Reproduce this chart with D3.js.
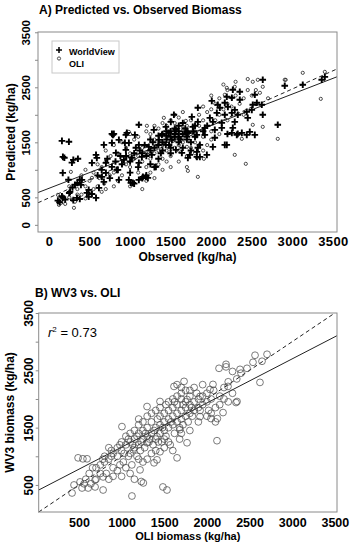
<!DOCTYPE html>
<html>
<head>
<meta charset="utf-8">
<script src="https://cdn.jsdelivr.net/npm/d3@7"></script>
<style>
  body { margin: 0; background: #fff; }
  svg { font-family: "Liberation Sans", Arial, sans-serif; }
</style>
</head>
<body>
<script>
// Panel A: observed vs predicted, two sensors
var wvPoints = [
  [110,440],[130,410],[170,490],[200,460],[160,520],[250,580],[300,450],[345,490],[380,470],[170,945],[172,1236],[190,1220],[283,1130],[357,1200],[300,1180],[160,1527],[246,1509],[240,820],[320,730],[290,680],[260,600],[380,820],[350,760],
  [468,581],[490,510],[580,490],[530,560],[580,1272],[590,1218],[530,1127],[677,1454],[776,1490],[862,1545],[776,1654],[948,1636],[985,1490],[1108,1454],[1231,1418],[702,1127],[776,1054],[702,945],[837,1000],[653,872],[862,818],[985,818],[1108,818],[1195,872],[1010,763],[677,781],[616,672],[490,636],[406,818],[394,727],[924,1181],[1022,1218],[1145,1236],[1268,1272],[1318,1054],[1108,1127],[825,1309],[948,1363],[1071,1400],[1440,1454],[1515,1545],[1478,1672],[1600,1600],[1638,1309],[1564,1363],[1355,1545],[1392,1636],
  [788,1636],[936,1490],[1059,1636],[1860,1454],[2020,1418],[2192,1454],[2315,1636],[2438,1636],[2537,1636],[1823,1236],[1946,1272],[1700,1600],
  [2635,2636],[2537,2364],[2562,2218],[2623,2182],[2512,2182],[2500,2090],[2635,2000],[2820,1818],[2906,2527],[3128,2545],[3362,2636],[3400,2690],[2266,2455],[2352,2418],[2192,2327],[2254,2309],[2352,2273],[2167,2218],[2081,2182],[2007,2254],[1835,2127],[2106,2127],[2205,2145],[2290,2090],[2069,2036],[2167,2000],[2254,2036],[2327,2000],[2438,2054],[2450,1945],[1983,1945],[1761,1963],[1835,1872],[2020,1872],[2130,1854],[2290,1872],[1773,1781],[1921,1763],[2044,1727],[2130,1763],[2266,1763],[2377,1672],[2475,1690],[2254,1672],[1700,1672],
  [1540,2000],[1108,1818],[1293,1727],[1441,1781],[1502,1872],[1564,1727],[800,1654],[960,1672],
  [1712,1672],[1823,1636],[1921,1636],[2044,1582],[2167,1454],[2327,1654],[1835,1400],[1736,1272],[1712,1218],[1860,1236],[1823,1327],
  [1200,1250],[1250,1350],[1300,1400],[1350,1450],[1400,1500],[1450,1550],[1500,1600],[1550,1650],[1600,1700],[1650,1650],[1700,1550],[1750,1500],[1800,1600],[1150,1300],[1350,1200],[1400,1650],[1500,1400],[1600,1500],[1700,1700],[1550,1750],[1450,1700],[1250,1550],[1180,1450],[1050,1300],[950,1250],[900,1100],[850,1000],[1000,950],[1100,1050],[1200,900],[1150,850],[1050,750],[1250,1100],[1300,1050],[1400,1350],[1500,1300],[1650,1400],[1750,1350],
  [1158,872],[1219,854],[1034,763],
  [600,900],[650,1000],[720,1200],[750,850],[820,1150],[880,1250],[1000,1150],[1120,1350],[1280,1500],[1380,1300],[1480,1450],[1620,1550],[1680,1750],[1780,1700],[1900,1700],[1950,1800],[1550,1600],[1450,1620],[1350,1620],[1500,1700],[1600,1800],[1800,1800],[2200,1650],[1650,1850]
];

var oliPoints = [
  [3350,2290],[3128,2763],[2918,2636],[3400,2781],[2906,2636],[2635,2509],[2512,2600],[2574,2636],[2192,2490],[2290,2509],[2254,2309],[2512,1818],[2635,1781],[2167,2364],[1416,1945],[1207,1800],[985,1690],[1687,1890],[270,963],[308,309],[123,363],[110,545],[283,454],[530,854],
  [1712,981],[1835,872],[2290,1272],[2426,1109],[2820,1563],[1700,1418],[1823,1218],[1909,1200],[2377,1563],
  [150,400],[200,380],[250,500],[320,420],[400,550],[450,480],[500,600],[550,650],[600,700],[450,700],[350,650],[500,800],[620,850],[680,750],[700,650],[750,900],[800,950],[650,1050],[700,1150],[760,1250],[800,700],[850,800],[900,900],[900,1200],[950,1100],[1000,1050],[1000,1300],[1050,1200],[1100,950],[1100,1250],[1150,1150],[1150,1400],[1200,1050],[1200,1300],[1250,1200],[1250,950],[1300,1300],[1300,1550],[1350,1350],[1350,1100],[1400,1450],[1400,1200],[1450,1350],[1450,1600],[1500,1500],[1500,1250],[1550,1550],[1550,1400],[1600,1650],[1600,1350],[1650,1500],[1650,1750],[1700,1800],[1750,1650],[1750,1900],[1800,1700],[1800,1500],[1850,1800],[1850,2000],[1900,1900],[1900,1600],[1950,2050],[2000,2100],[2000,1700],[2050,2200],[2050,1900],[2100,2000],[2100,2300],[2150,2100],[2200,2200],[2200,1900],[2250,2150],[2300,2350],[2350,2200],[2400,2300],[2450,2450],[2500,2350],[2550,2450],[2600,2400],[2700,2300],[2400,2000],[1950,1450],[2100,1650],[1300,850],[1200,800],[1400,1000],[1600,1150],[1700,1250],[550,950],[650,600],[350,550],[900,1500],[1000,1650],[1100,1600],[1200,1700],[1300,1800],[1400,1850],[1500,1900],[1600,1950],[1550,1850],[1050,1550],[950,1400],[850,1300],[1750,1400],[1850,1450],[2000,1550],[1250,1650],[1350,1750],[1450,1800],[1550,2000],[1650,2050],[800,1450],[700,1350],[600,1100],[450,1000],[250,700],[400,900],[1150,650],[1000,700],[1500,1050],[1800,1300],[1900,2150],[2000,2350],[2200,2450],[2300,2600],[2450,2650],[2150,2550],[1900,1350],[1700,1050],[1600,1450],[1450,1150],[1350,1500]
];

// Panel B: OLI biomass vs WV3 biomass
var bPoints = [
  [2564,2763],[2705,2780],[2646,2658],[2540,2640],[2388,2517],[2470,2535],[2224,2605],[2142,2535],[2224,2560],[1614,2219],[1732,2307],[2622,2289],[2247,2219],[2071,2254],[2036,2166],[2353,1956],[1450,1956],[1767,1991],[1919,2044],[1298,1868],
  [2341,1938],[2189,1763],[2122,1658],[2048,1658],[2118,1272],[1767,1236],[1650,973],[1484,465],[1532,412],[1121,307],[1004,1518],[490,973],[546,956],[595,956],[513,553],[442,500],[419,360],[536,447],[608,447],[689,465],[783,412],[689,588],[783,640],[1216,763],[1255,535],[1230,560],[1380,886],[1415,938],[1137,1114],[1298,1236],[1450,1079],[1415,1342],[1684,1465],[1919,1693],
  [700,800],[750,850],[800,900],[820,700],[850,950],[880,1100],[900,800],[950,1000],[980,850],[1000,1100],[1020,900],[1050,1200],[1080,1000],[1100,1250],[1100,1050],[1120,850],[1150,1150],[1150,1300],[1180,1000],[1200,1400],[1200,1200],[1220,1100],[1250,1300],[1250,1450],[1270,1150],[1300,1350],[1300,1500],[1320,1250],[1350,1400],[1350,1600],[1370,1200],[1400,1500],[1400,1300],[1420,1650],[1450,1400],[1450,1550],[1470,1250],[1500,1600],[1500,1450],[1500,1750],[1520,1350],[1550,1650],[1550,1500],[1550,1800],[1570,1200],[1600,1700],[1600,1550],[1600,1850],[1620,1400],[1650,1750],[1650,1600],[1650,1900],[1680,1500],[1700,1800],[1700,1650],[1700,2000],[1720,1550],[1750,1850],[1750,1700],[1750,1950],[1780,1600],[1800,1900],[1800,1750],[1800,2050],[1830,1700],[1850,1950],[1850,1800],[1880,2100],[1900,2000],[1900,1850],[1950,2050],[1950,1900],[2000,2100],[2000,1950],[2050,2000],[2080,2150],[2100,1850],[2150,2050],[2200,2200],[2250,1950],[1550,1250],[1600,1100],[1680,1300],[1500,1150],[1400,1100],[1350,1050],[1300,950],[1250,900],[1200,950],[1150,1450],[1100,1400],[1050,1350],[1000,1250],[950,1150],[900,1050],[850,1150],[800,1000],[750,700],[900,650],[1000,650],[1050,800],[1250,1600],[1350,1750],[1450,1850],[1550,1950],[1650,2050],[1750,2150],[1850,2200],[1950,2250],[1300,1700],[1400,1800],[1200,1550],[1600,2000],[1700,2100],[1800,2150],[1450,1700],[1520,1900],[1620,1950],[1720,1900],[1820,1850],[1920,1800],[2020,1800],[2050,1750],[1580,1600],[1480,1500],[1380,1450],[1280,1400],[1180,1350],[1080,1300],[980,1200],[880,1000],[780,950],[660,800],[620,700],[580,600],[560,520],[640,520],[700,600],[850,600],[950,750],[1100,700],[1150,600],[1200,1650],[1700,1400],[1800,1450],[1900,1600],[2000,1700],[2100,1600],[2150,1900],[2200,2000],[2300,2100],[2250,2300],[2350,2350],[2400,2450],[2300,2480],[1700,2200],[1650,2250],[1500,1300],[1430,1250],[1330,1300],[1230,1250],[1130,1200],[1030,1050]
];

var tickValues = [0, 500, 1000, 1500, 2000, 2500, 3000, 3500];
var yLabelled = [0, 500, 1500, 2500, 3500];

// fitted lines: [intercept, slope]
var fitA_solid = [664, 0.571];
var fitA_dashed = [490, 0.66];
var fitB_solid = [390, 0.77];
var fitB_dashed = [0, 1];

var svg = d3.select("body").append("svg")
  .attr("width", 354)
  .attr("height", 550);

function panel(opt) {
  var x = d3.scaleLinear().domain(opt.xDomain).range([opt.left, opt.right]);
  var y = d3.scaleLinear().domain(opt.yDomain).range([opt.bottom, opt.top]);
  var g = svg.append("g");

  // lines across the plot
  opt.lines.forEach(function(l) {
    var x0 = opt.xDomain[0], x1 = opt.xDomain[1];
    var pts = [[x0, l.fit[0] + l.fit[1] * x0], [x1, l.fit[0] + l.fit[1] * x1]];
    // clip the 1:1 line to the box
    if (pts[1][1] > opt.yDomain[1]) { pts[1] = [(opt.yDomain[1] - l.fit[0]) / l.fit[1], opt.yDomain[1]]; }
    if (pts[0][1] < opt.yDomain[0]) { pts[0] = [(opt.yDomain[0] - l.fit[0]) / l.fit[1], opt.yDomain[0]]; }
    g.append("line")
      .attr("x1", x(pts[0][0])).attr("y1", y(pts[0][1]))
      .attr("x2", x(pts[1][0])).attr("y2", y(pts[1][1]))
      .attr("stroke", "#222")
      .attr("stroke-width", 1)
      .attr("stroke-dasharray", l.dashed ? "4,3" : null);
  });

  opt.draw(g, x, y);

  g.append("rect")
    .attr("x", opt.left).attr("y", opt.top)
    .attr("width", opt.right - opt.left).attr("height", opt.bottom - opt.top)
    .attr("fill", "none").attr("stroke", "#8a8a8a").attr("stroke-width", 1);

  var xAxis = g.append("g")
    .attr("transform", "translate(0," + opt.bottom + ")")
    .call(d3.axisBottom(x).tickValues(opt.xTicks).tickSize(0).tickFormat(d3.format("d")));
  xAxis.select(".domain").remove();
  xAxis.selectAll("text")
    .attr("y", opt.xTickDy).attr("dy", null)
    .attr("fill", "#000")
    .style("font-size", opt.xTickSize + "px")
    .style("letter-spacing", opt.xTickSpacing + "px")
    .style("font-weight", "bold")
    .style("font-family", "Liberation Sans, Arial, sans-serif");

  var yAxis = g.append("g")
    .attr("transform", "translate(" + opt.left + ",0)")
    .call(d3.axisLeft(y).tickValues(opt.yTicks).tickSize(3).tickSizeOuter(0)
      .tickFormat(function(d) { return yLabelled.indexOf(d) >= 0 ? d : ""; }));
  yAxis.select(".domain").remove();
  yAxis.selectAll("line").attr("stroke", "#8a8a8a");
  yAxis.selectAll("text")
    .attr("x", null).attr("y", null).attr("dy", null)
    .attr("text-anchor", "middle")
    .attr("transform", "translate(" + opt.yTickDx + ",0) rotate(-90)")
    .attr("fill", "#000")
    .style("font-size", opt.yTickSize + "px")
    .style("font-weight", "bold")
    .style("font-family", "Liberation Sans, Arial, sans-serif");

  svg.append("text")
    .attr("x", opt.titleX).attr("y", opt.titleY)
    .style("font-size", "12px").style("font-weight", "bold")
    .text(opt.title);

  svg.append("text")
    .attr("x", (opt.left + opt.right) / 2).attr("y", opt.xLabelY)
    .attr("text-anchor", "middle")
    .style("font-size", opt.xLabelSize + "px").style("font-weight", "bold")
    .text(opt.xLabel);

  svg.append("text")
    .attr("transform", "translate(" + opt.yLabelX + "," + ((opt.top + opt.bottom) / 2) + ") rotate(-90)")
    .attr("text-anchor", "middle")
    .style("font-size", opt.yLabelSize + "px").style("font-weight", "bold")
    .text(opt.yLabel);

  return { x: x, y: y, g: g };
}

// ---- Panel A ----
var A = panel({
  left: 38, right: 337, top: 32, bottom: 232,
  xDomain: [-135, 3550], yDomain: [-130, 3505],
  xTicks: tickValues, yTicks: tickValues,
  xTickDy: 14, xTickSize: 13, xTickSpacing: 0.4, yTickDx: -8, yTickSize: 11.5,
  title: "A) Predicted vs. Observed Biomass", titleX: 39, titleY: 14,
  xLabel: "Observed (kg/ha)", xLabelY: 261, xLabelSize: 12,
  yLabel: "Predicted (kg/ha)", yLabelX: 15, yLabelSize: 12,
  lines: [{ fit: fitA_solid, dashed: false }, { fit: fitA_dashed, dashed: true }],
  draw: function(g, x, y) {
    g.selectAll("circle.oli").data(oliPoints).enter().append("circle")
      .attr("class", "oli")
      .attr("cx", function(d) { return x(d[0]); })
      .attr("cy", function(d) { return y(d[1]); })
      .attr("r", 1.6)
      .attr("fill", "none").attr("stroke", "#222").attr("stroke-width", 0.8);
    g.selectAll("path.wv").data(wvPoints).enter().append("path")
      .attr("class", "wv")
      .attr("transform", function(d) { return "translate(" + x(d[0]) + "," + y(d[1]) + ")"; })
      .attr("d", "M-3.3,0H3.3M0,-3.3V3.3")
      .attr("stroke", "#000").attr("stroke-width", 1.9);
  }
});

// legend
var leg = svg.append("g");
leg.append("rect").attr("x", 52).attr("y", 41).attr("width", 67).attr("height", 32)
  .attr("fill", "#fff").attr("stroke", "#c8c8c8").attr("stroke-width", 1);
leg.append("path").attr("d", "M56,50H62M59,47V53").attr("stroke", "#000").attr("stroke-width", 1.5);
leg.append("circle").attr("cx", 59).attr("cy", 58.5).attr("r", 1.6)
  .attr("fill", "none").attr("stroke", "#222").attr("stroke-width", 0.8);
leg.append("text").attr("x", 69).attr("y", 55).style("font-size", "9px").style("font-weight", "bold").text("WorldView");
leg.append("text").attr("x", 69).attr("y", 66.5).style("font-size", "9px").style("font-weight", "bold").text("OLI");

// ---- Panel B ----
var B = panel({
  left: 38.7, right: 337, top: 313, bottom: 512,
  xDomain: [28, 3525], yDomain: [28, 3500],
  xTicks: tickValues.slice(1), yTicks: tickValues.slice(1),
  xTickDy: 15, xTickSize: 12.5, xTickSpacing: 0, yTickDx: -6, yTickSize: 12,
  title: "B) WV3 vs. OLI", titleX: 35, titleY: 297,
  xLabel: "OLI biomass (kg/ha)", xLabelY: 540, xLabelSize: 11,
  yLabel: "WV3 biomass (kg/ha)", yLabelX: 14, yLabelSize: 12,
  lines: [{ fit: fitB_solid, dashed: false }, { fit: fitB_dashed, dashed: true }],
  draw: function(g, x, y) {
    g.selectAll("circle.b").data(bPoints).enter().append("circle")
      .attr("class", "b")
      .attr("cx", function(d) { return x(d[0]); })
      .attr("cy", function(d) { return y(d[1]); })
      .attr("r", 3.4)
      .attr("fill", "none").attr("stroke", "#444").attr("stroke-width", 0.7);
  }
});

var r2 = svg.append("text").attr("x", 48).attr("y", 337).style("font-size", "13px");
r2.append("tspan").style("font-style", "italic").text("r");
r2.append("tspan").attr("dy", -5).style("font-size", "8px").text("2");
r2.append("tspan").attr("dy", 5).text(" = 0.73");
</script>
</body>
</html>
